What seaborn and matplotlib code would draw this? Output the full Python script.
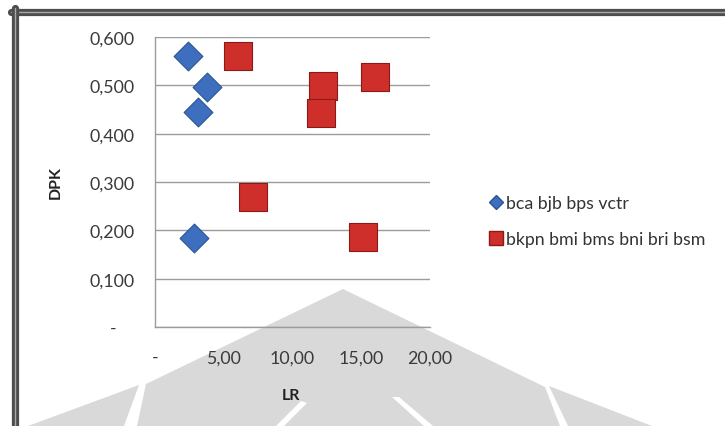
import numpy as np
import pandas as pd
import matplotlib
matplotlib.use("Agg")
import matplotlib.pyplot as plt
import seaborn as sns
from matplotlib.patches import Polygon
from matplotlib.lines import Line2D

# data
lr_a = [2.4, 3.8, 3.1, 2.8]
dpk_a = [0.561, 0.497, 0.445, 0.184]
lr_b = [6.0, 12.2, 12.1, 16.0, 7.1, 15.1]
dpk_b = [0.561, 0.499, 0.443, 0.517, 0.269, 0.186]
group_a = "bca bjb bps vctr"
group_b = "bkpn bmi bms bni bri bsm"

y_ticks = [0.0, 0.1, 0.2, 0.3, 0.4, 0.5, 0.6]
y_labels = ["-    ", "0,100", "0,200", "0,300", "0,400", "0,500", "0,600"]
x_ticks = [0, 5, 10, 15, 20]
x_labels = ["-", "5,00", "10,00", "15,00", "20,00"]

df = pd.DataFrame({
    "LR": lr_a + lr_b,
    "DPK": dpk_a + dpk_b,
    "group": [group_a] * len(lr_a) + [group_b] * len(lr_b),
})

sns.set_theme(style="white")
plt.rcParams["font.family"] = ["Lato", "DejaVu Sans"]

W, H = 725, 427
fig = plt.figure(figsize=(W / 100, H / 100), dpi=100)
fig.patch.set_facecolor("white")


def px(x, y):
    return (x / W, 1 - y / H)


# watermark (light grey logo shape)
wm = "#d9d9d9"
shapes = [
    [(343, 290), (545, 388), (560, 427), (137, 427), (146, 385)],
    [(139, 386), (124, 427), (28, 427)],
    [(549, 387), (652, 427), (568, 427)],
]
for s in shapes:
    fig.add_artist(Polygon([px(*p) for p in s], closed=True, transform=fig.transFigure,
                           facecolor=wm, edgecolor="none", zorder=-2))
for s in [[(301, 402), (307, 404), (284, 427), (276, 427)],
          [(392, 398), (399, 398), (433, 427), (424, 427)]]:
    fig.add_artist(Polygon([px(*p) for p in s], closed=True, transform=fig.transFigure,
                           facecolor="white", edgecolor="none", zorder=-1))

# outer frame lines
for (x0, y0, x1, y1) in [(11, 12.5, 725, 12.5), (14.5, 9, 14.5, 427)]:
    a, b = px(x0, y0)
    c, d = px(x1, y1)
    fig.add_artist(Line2D([a, c], [b, d], transform=fig.transFigure, color="#4d4d4d", lw=5.2))
    fig.add_artist(Line2D([a, c], [b, d], transform=fig.transFigure, color="#a8a8a8", lw=1.0))

ax = fig.add_axes([155 / W, 1 - 328 / H, 275 / W, 290 / H])
ax.set_facecolor("none")

sns.scatterplot(data=df[df["group"] == group_a], x="LR", y="DPK", marker="D", s=215,
                color="#3d6fbe", edgecolor="#2a5496", linewidth=0.8, ax=ax, zorder=3,
                legend=False)
sns.scatterplot(data=df[df["group"] == group_b], x="LR", y="DPK", marker="s", s=430,
                color="#cf2f2b", edgecolor="#8a1a18", linewidth=0.8, ax=ax, zorder=3,
                legend=False)

ax.set_xlim(0, 20)
ax.set_ylim(0, 0.6)
ax.set_yticks(y_ticks)
ax.set_yticklabels(y_labels)
ax.set_xticks(x_ticks)
ax.set_xticklabels(x_labels)
ax.tick_params(axis="both", length=0, labelsize=12.8, labelcolor="#3a3a3a")
ax.tick_params(axis="y", pad=15)
ax.tick_params(axis="x", pad=16)
ax.yaxis.grid(True, color="#9c9c9c", lw=1)
ax.xaxis.grid(False)
ax.set_axisbelow(True)
for side in ["top", "right"]:
    ax.spines[side].set_visible(False)
for side in ["left", "bottom"]:
    ax.spines[side].set_color("#9c9c9c")
    ax.spines[side].set_linewidth(1)

ax.set_xlabel("LR", fontsize=11.5, fontweight="bold", color="#222222")
ax.set_ylabel("DPK", fontsize=11.5, fontweight="bold", color="#222222")
ax.xaxis.set_label_coords(0.495, -0.21)
ax.yaxis.set_label_coords(-0.335, 0.5)

handles = [
    Line2D([], [], marker="D", ls="none", color="#3d6fbe", markeredgecolor="#2a5496", markersize=7),
    Line2D([], [], marker="s", ls="none", color="#cf2f2b", markeredgecolor="#8a1a18", markersize=9.5),
]
fig.legend(handles, [group_a, group_b], loc="center left", bbox_to_anchor=px(481, 222),
           frameon=False, fontsize=12.8, handlelength=0.7, handletextpad=0.2,
           labelspacing=1.15, borderpad=0, labelcolor="#333333")

fig.savefig("out.png", dpi=100)
